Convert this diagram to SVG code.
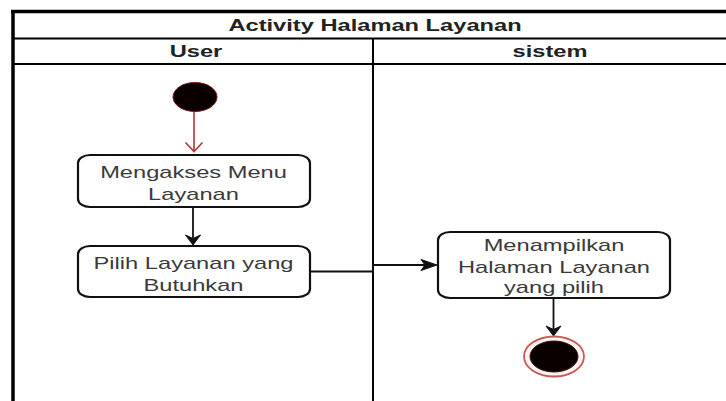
<svg xmlns="http://www.w3.org/2000/svg" width="726" height="401" viewBox="0 0 726 401">
  <style>
    .frame { fill: none; stroke: #000; }
    .hdr { font-family: "Liberation Sans", Arial, sans-serif; font-size: 16px; font-weight: bold; fill: #222; text-anchor: middle; }
    .lbl { font-family: "Liberation Sans", Arial, sans-serif; font-size: 16px; fill: #3a3a3a; text-anchor: middle; }
    .act { fill: #fff; stroke: #111; stroke-width: 2.2; }
    .edge { fill: none; stroke: #111; stroke-width: 1.8; }
    .head { fill: #111; stroke: #111; stroke-width: 1; stroke-linejoin: miter; }
    .edge-red { fill: none; stroke: #b83232; stroke-width: 1.6; }
  </style>
  <rect x="0" y="0" width="726" height="401" fill="#fff"/>

  <!-- swimlane pool -->
  <g id="pool">
    <line class="frame" x1="11" y1="11.5" x2="726" y2="11.5" stroke-width="3.5"/>
    <line class="frame" x1="13" y1="10" x2="13" y2="401" stroke-width="3.5"/>
    <line class="frame" x1="13" y1="38.5" x2="726" y2="38.5" stroke-width="1.8"/>
    <line class="frame" x1="13" y1="64" x2="726" y2="64" stroke-width="1.8"/>
    <line class="frame" x1="373" y1="38.5" x2="373" y2="401" stroke-width="2"/>
    <text class="hdr" transform="matrix(1.48 0 0 1 375 31)">Activity Halaman Layanan</text>
  </g>
  <g id="lane-user">
    <text class="hdr" transform="matrix(1.48 0 0 1 196 57)">User</text>
  </g>
  <g id="lane-sistem">
    <text class="hdr" transform="matrix(1.48 0 0 1 550 57)">sistem</text>
  </g>

  <!-- connectors -->
  <g id="connectors">
    <line class="edge-red" x1="194" y1="112" x2="194" y2="151"/>
    <polyline class="edge-red" points="185.5,142.5 194,151.5 202.5,142.5"/>

    <line class="edge" x1="193" y1="207" x2="193" y2="238"/>
    <polygon class="head" points="193,245 185.5,235 193,238.5 200.5,235"/>

    <path class="edge" d="M310,271.5 H373 V265 H428"/>
    <polygon class="head" points="437,265 421,259.5 425,265 421,270.5"/>

    <line class="edge" x1="553.5" y1="298" x2="553.5" y2="330"/>
    <polygon class="head" points="553.5,336 546,326 553.5,329.5 561,326"/>
  </g>

  <!-- start node -->
  <g id="start">
    <ellipse cx="195" cy="97" rx="22" ry="14.5" fill="#0a0000" stroke="#7a1515" stroke-width="1"/>
  </g>

  <!-- activity nodes -->
  <g id="mengakses-menu">
    <rect class="act" x="78" y="155" width="232" height="52" rx="12" ry="8"/>
    <text class="lbl" transform="matrix(1.48 0 0 1 193.5 178)">Mengakses Menu</text>
    <text class="lbl" transform="matrix(1.48 0 0 1 193.5 199.5)">Layanan</text>
  </g>

  <g id="pilih-layanan">
    <rect class="act" x="78" y="246" width="232" height="51" rx="12" ry="8"/>
    <text class="lbl" transform="matrix(1.48 0 0 1 193.5 269)">Pilih Layanan yang</text>
    <text class="lbl" transform="matrix(1.48 0 0 1 193.5 290.5)">Butuhkan</text>
  </g>

  <g id="menampilkan">
    <rect class="act" x="438" y="232" width="232" height="66" rx="12" ry="8"/>
    <text class="lbl" transform="matrix(1.48 0 0 1 554 251)">Menampilkan</text>
    <text class="lbl" transform="matrix(1.48 0 0 1 554 272.5)">Halaman Layanan</text>
    <text class="lbl" transform="matrix(1.48 0 0 1 554 293)">yang pilih</text>
  </g>

  <!-- end node -->
  <g id="end">
    <ellipse cx="554" cy="356.5" rx="30" ry="20" fill="#fff4f2" stroke="#c85a55" stroke-width="1.8"/>
    <ellipse cx="554" cy="356.5" rx="24" ry="15.5" fill="#0a0000" stroke="#4a0a0a" stroke-width="1"/>
  </g>
</svg>
